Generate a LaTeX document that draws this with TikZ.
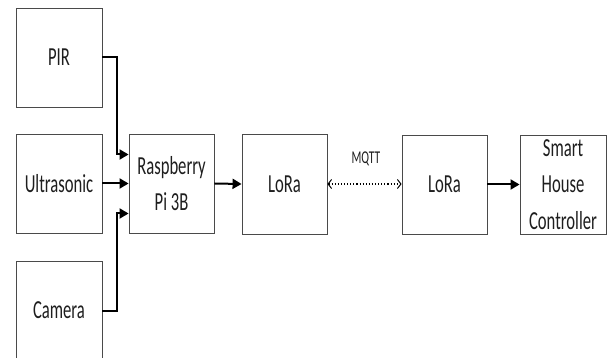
\documentclass[tikz,border=0pt]{standalone}
\usepackage{fontspec}
\setmainfont{Carlito}
\usetikzlibrary{arrows.meta}
\newcommand{\sqz}[1]{\scalebox{0.64}[1]{#1}}
\definecolor{boxline}{HTML}{4A4A4A}
\definecolor{txt}{HTML}{1E1E1E}
\begin{document}
\begin{tikzpicture}[x=1pt,y=-1pt,
  blk/.style={draw=boxline,line width=0.9pt,rectangle,minimum width=86pt,minimum height=99pt,inner sep=0pt,
    text=txt,align=center,font=\fontsize{26}{36.5}\selectfont},
  arr/.style={draw=black,line width=2pt,-{Triangle[length=9pt,width=10pt]}},
  link/.style={draw=black,line width=2pt}]
\useasboundingbox (0,0) rectangle (608,358);
\node[blk] (pir) at (59,57.5) {\sqz{PIR}};
\node[blk] (ultra) at (59,183.5) {\sqz{Ultrasonic}};
\node[blk] (cam) at (59,310.5) {\sqz{Camera}};
\node[blk,minimum width=85pt] (rasp) at (171.5,183.5) {\sqz{Raspberry}\\\sqz{Pi 3B}};
\node[blk,minimum width=85pt,minimum height=100pt] (lora1) at (284.5,184) {\sqz{LoRa}};
\node[blk,minimum width=85pt] (lora2) at (444.5,184.5) {\sqz{LoRa}};
\node[blk] (smart) at (563,184.5) {\sqz{Smart}\\\sqz{House}\\\sqz{Controller}};
\node[text=txt,font=\fontsize{18}{20}\selectfont,inner sep=0pt] (mqtt) at (366,159) {\sqz{MQTT}};
\draw[arr] (pir.east) -- ++(15,0) |- ([yshift=29pt]rasp.west);
\draw[arr] (ultra.east) -- (rasp.west);
\draw[arr] (cam.east) -- ++(15,0) |- ([yshift=-30pt]rasp.west);
\draw[arr] (rasp.east) -- (lora1.west);
\draw[draw=black,line width=1.1pt,dotted,{Straight Barb[length=3.5pt,width=9pt,line width=1pt]}-{Straight Barb[length=3.5pt,width=9pt,line width=1pt]}] (lora1.east) -- (lora2.west |- lora1.east);
\draw[arr] (lora2.east) -- (smart.west);
\end{tikzpicture}
\end{document}
